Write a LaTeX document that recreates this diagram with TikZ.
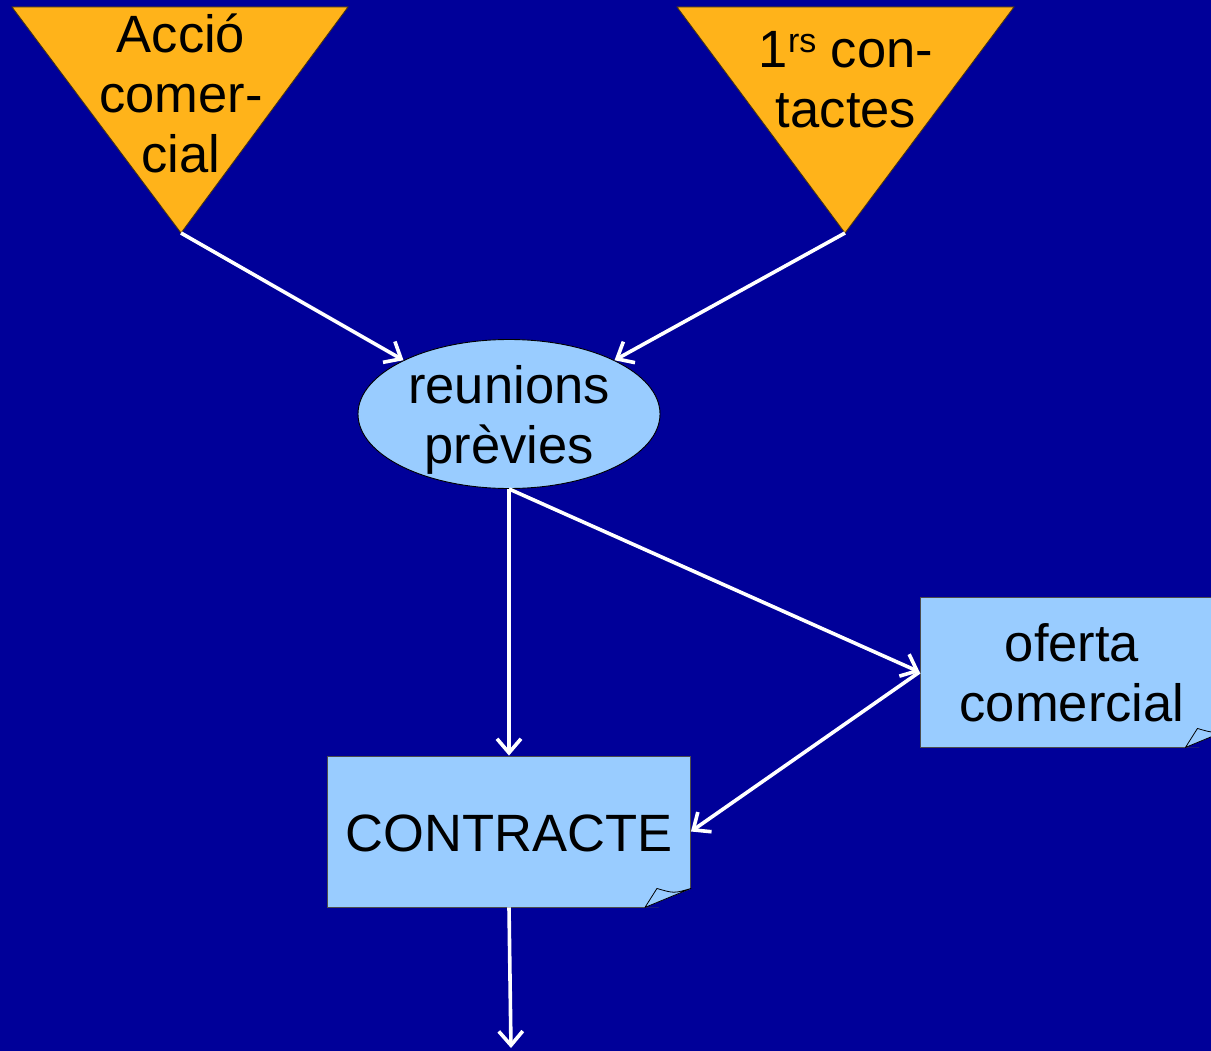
\documentclass[tikz,border=0pt]{standalone}
\usepackage{fontspec}
\setmainfont{Liberation Sans}
\usetikzlibrary{shapes.geometric,arrows.meta}
\definecolor{bgblue}{HTML}{000099}
\definecolor{triorange}{HTML}{FFB31A}
\definecolor{boxblue}{HTML}{99CCFF}
\begin{document}
\begin{tikzpicture}[x=1pt,y=-1pt,
  lbl/.style={inner sep=0pt, align=center, text=black,
              font=\fontsize{52.5}{60}\selectfont},
  tri/.style={fill=triorange, draw=black!70!triorange, line width=0.8pt},
  card/.style={rectangle, inner sep=0pt, fill=boxblue,
               draw=black!70, line width=0.9pt},
  flap/.style={fill=boxblue, draw=black, line width=0.8pt, line join=round},
  arr/.style={draw=white, line width=3.6pt,
              -{Straight Barb[length=14pt,width=24pt]}},
]
% canvas
\useasboundingbox (0,0) rectangle (1211,1051);
\clip (0,0) rectangle (1211,1051);
\fill[bgblue] (0,0) rectangle (1211,1051);

% inverted triangles at the top
\filldraw[tri] (12,7) -- (348,7) -- (181,233) -- cycle;
\coordinate (accioTip) at (181,233);
\node[lbl] (accioText) at (181,101)
  {\strut Acció\\\strut comer-\\\strut cial};

\filldraw[tri] (677,7) -- (1014,7) -- (845,233) -- cycle;
\coordinate (contTip) at (845,233);
\node[lbl] (contText) at (846,86)
  {\strut 1{\fontsize{34}{34}\selectfont\raisebox{15pt}{rs}} con-\\\strut tactes};

% meetings ellipse
\node[ellipse, fill=boxblue, draw=black, line width=0.9pt, inner sep=0pt,
      minimum width=302pt, minimum height=149pt] (reun) at (509,414) {};
\node[lbl] (reunText) at (509,421) {\strut reunions\\\strut prèvies};

% document cards
\node[card, minimum width=311pt, minimum height=150pt] (ofer) at (1075.5,672) {};
\node[lbl] (oferText) at (1072,679) {\strut oferta\\\strut comercial};

\node[card, minimum width=363pt, minimum height=151pt] (contr) at (509,831.5) {};
\node[lbl] (contrText) at (509,839) {\strut CONTRACTE};

% folded bottom-right corners of the cards
\foreach \n in {contr,ofer}{
  \fill[bgblue] ([xshift=-46pt]\n.south east) -- ([xshift=1pt,yshift=-1pt]\n.south east)
     -- ([xshift=1pt,yshift=19pt]\n.south east) -- cycle;
  \filldraw[flap] ([xshift=-46pt]\n.south east)
     -- ([xshift=-34pt,yshift=19pt]\n.south east)
     .. controls ([xshift=-17pt,yshift=14pt]\n.south east) ..
     ([yshift=19pt]\n.south east) -- cycle;
}

% connectors
\coordinate (outEnd) at (511,1048);
\draw[arr] (accioTip) -- (reun.153);
\draw[arr] (contTip) -- (reun.27);
\draw[arr] (reun.south) -- (contr.north);
\draw[arr] (reun.south) -- (ofer.west);
\draw[arr] (ofer.west) -- (contr.east);
\draw[arr] (contr.south) -- (outEnd);
\end{tikzpicture}
\end{document}
